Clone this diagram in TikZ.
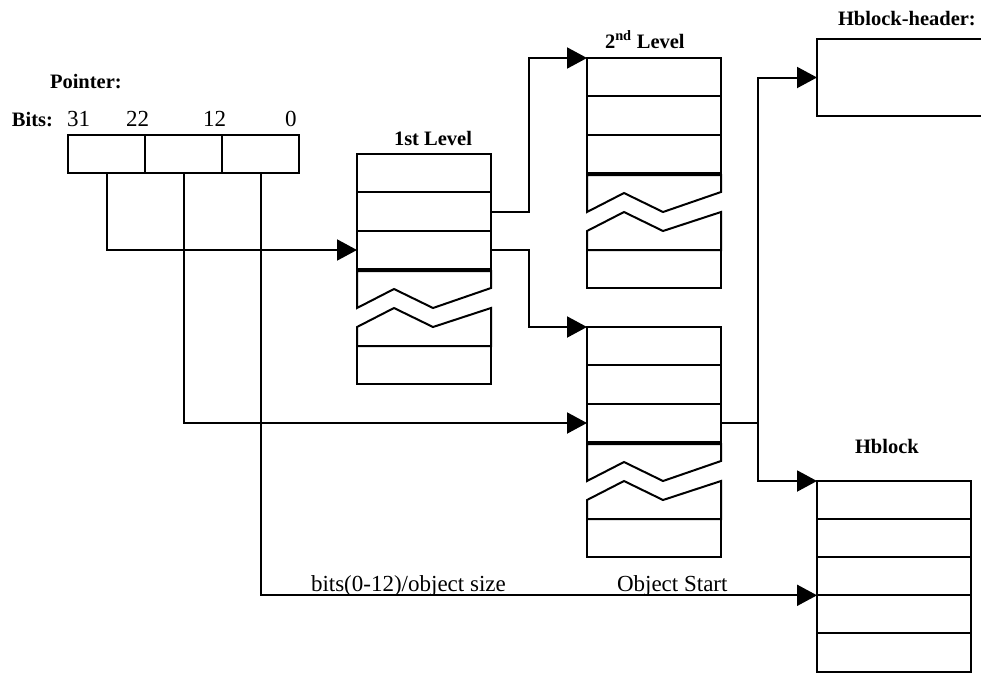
\documentclass[tikz,border=0pt]{standalone}
\usepackage{fontspec}
\setmainfont{Liberation Serif}
\usetikzlibrary{arrows.meta}
\tikzset{
  cell/.style={draw, line width=2pt, inner sep=0pt, outer sep=0pt, minimum width=134pt, minimum height=38.4pt, anchor=north west},
  ptrcell/.style={cell, minimum width=77pt, minimum height=38pt},
  hbcell/.style={cell, minimum width=154pt, minimum height=38.1pt},
  conn/.style={line width=2pt, -{Triangle[length=20pt,width=21pt]}},
  wire/.style={line width=2pt},
  frag/.style={draw, line width=2pt, line join=miter},
  lbl/.style={inner sep=0pt, outer sep=0pt, anchor=base west, font=\fontsize{23}{27}\selectfont},
  blbl/.style={inner sep=0pt, outer sep=0pt, anchor=base west, font=\fontsize{20.5}{24}\selectfont\bfseries}
}
\newcommand{\brktable}[3]{%
  \foreach \k/\n in {0/1,1/2,2/3}{%
    \node[cell] (#1r\n) at (#2,#3+\k*38.4) {};
  }
  \draw[frag, shift={(#2,#3)}] (0,117.2) -- (134,117.2) -- (134,134) -- (76,154) -- (37,135) -- (0,154) -- cycle;
  \draw[frag, shift={(#2,#3)}] (0,173) -- (37,154) -- (76,173) -- (134,154) -- (134,192) -- (0,192) -- cycle;
  \node[cell] (#1r4) at (#2,#3+192) {};
}
\begin{document}
\begin{tikzpicture}[x=1pt, y=-1pt]
\useasboundingbox (0,0) rectangle (981,672);
\clip (0,0) rectangle (981,672);
\fill[white] (0,0) rectangle (981,672);

% Pointer
\node[blbl] (ptrlbl) at (50,88) {Pointer:};
\node[blbl] (bitslbl) at (12,126) {Bits:};
\node[lbl] (b31) at (67,126) {31};
\node[lbl] (b22) at (126,126) {22};
\node[lbl] (b12) at (203,126) {12};
\node[lbl] (b0) at (285,126) {0};
\node[ptrcell] (P1) at (68,135) {};
\node[ptrcell] (P2) at (145,135) {};
\node[ptrcell] (P3) at (222,135) {};

% Tables
\node[blbl] (l1lbl) at (394,145) {1st Level};
\brktable{La}{357}{154}
\node[blbl] (l2lbl) at (605,48) {2\textsuperscript{nd} Level};
\brktable{Lb}{587}{58}
\brktable{Lc}{587}{327}

% Hblock header
\node[blbl] (hhlbl) at (838,25) {Hblock-header:};
\node[cell, minimum width=200pt, minimum height=77pt] (HH) at (817,39) {};

% Hblock
\node[blbl] (hblbl) at (855,453) {Hblock};
\foreach \k/\n in {0/1,1/2,2/3,3/4,4/5}{%
  \node[hbcell] (Hb\n) at (817,481+\k*38.1) {};
}

% Connectors
\draw[conn] (P1.south) |- (Lar3.west);
\draw[conn] (P2.south) |- (Lcr3.west);
\draw[conn] (P3.south) |- (Hb4.north west);
\draw[conn] (Lar2.east) -- ++(38,0) |- (Lbr1.north west);
\draw[conn] (Lar3.east) -- ++(38,0) |- (Lcr1.north west);
\draw[wire] (Lcr3.east) -- ++(37,0) coordinate (J);
\draw[conn] (J) |- (HH.west);
\draw[conn] (J) |- (Hb1.north west);

\node[lbl] (szlbl) at (311,591) {bits(0-12)/object size};
\node[lbl] (oslbl) at (617,591) {Object Start};
\end{tikzpicture}
\end{document}
